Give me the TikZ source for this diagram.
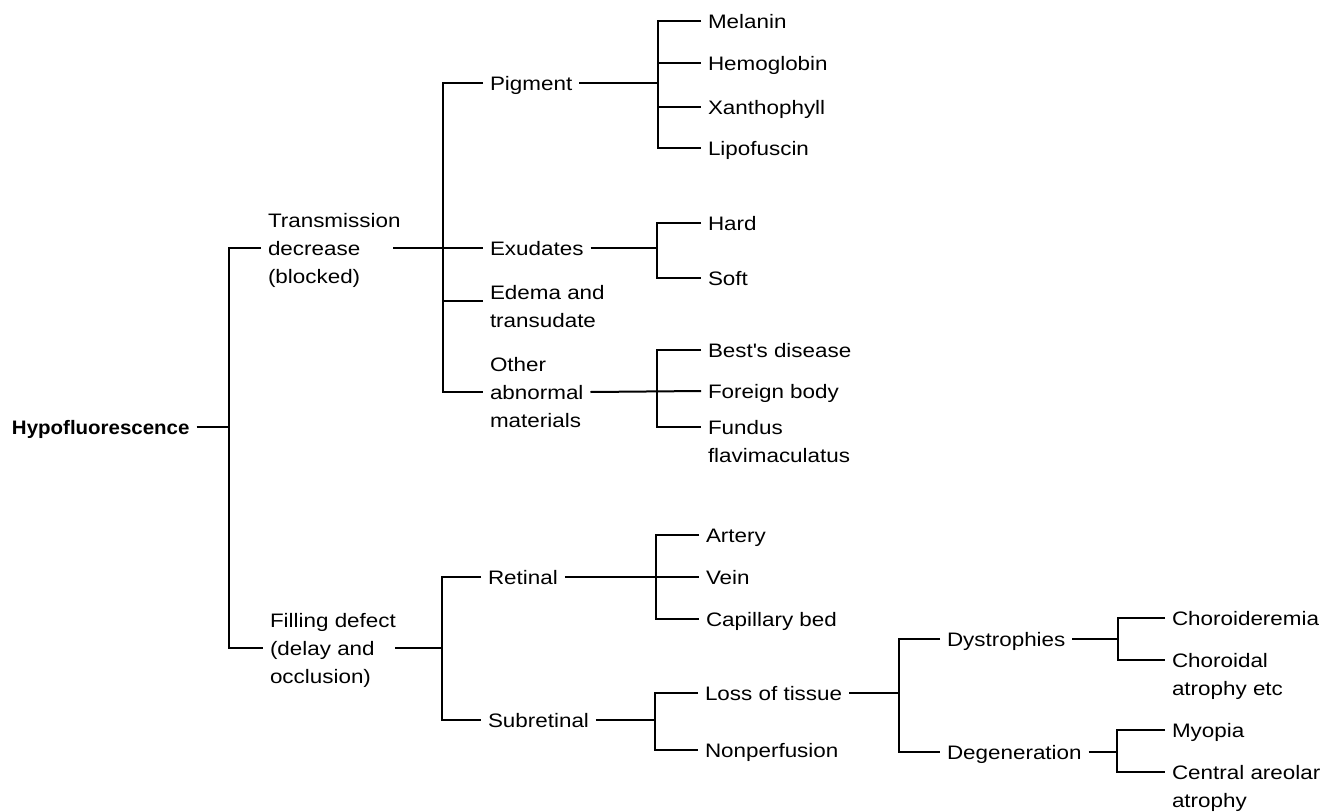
\documentclass[tikz,border=0pt]{standalone}
\usepackage{fontspec}
\setmainfont{Liberation Sans}[FakeStretch=1.15]
\newfontfamily\hypofont{Liberation Sans}[FakeStretch=1.05]
\begin{document}
\begin{tikzpicture}[x=1pt,y=-1pt,
  every node/.style={font=\fontsize{19.5}{28}\selectfont, text=black},
  lbl/.style={inner xsep=7pt, inner ysep=0pt, outer sep=0pt, text height=14pt, text depth=0pt, anchor=west},
  mlbl/.style={inner xsep=7pt, inner ysep=0pt, outer sep=0pt, align=left, anchor=base west},
  br/.style={line width=2pt, line join=miter}]
\useasboundingbox[fill=white] (0,0) rectangle (1335,811);

% junction columns
\coordinate (J0) at (229,0);
\coordinate (J1) at (443,0);
\coordinate (J2) at (442,0);
\coordinate (Jpig) at (658,0);
\coordinate (Jex) at (657,0);
\coordinate (Joth) at (657,0);
\coordinate (Jret) at (656,0);
\coordinate (Jsub) at (655,0);
\coordinate (Jloss) at (899,0);
\coordinate (Jdys) at (1118,0);
\coordinate (Jdeg) at (1117,0);

% nodes (multi-line labels are placed by the baseline of their last line)
\node[lbl] (hypo) at (5,427) {\hypofont\bfseries Hypofluorescence};
\node[mlbl] (trans) at (261,283) {Transmission\\decrease\\(blocked)};
\node[mlbl] (fill) at (263,683) {Filling defect\\(delay and\\occlusion)};

\node[lbl] (pig) at (483,83) {Pigment};
\node[lbl] (exud) at (483,248) {Exudates};
\node[mlbl] (edema) at (483,327) {Edema and\\transudate};
\node[mlbl] (other) at (483,427) {Other\\abnormal\\materials};

\node[lbl] (mel) at (701,21) {Melanin};
\node[lbl] (hemo) at (701,63) {Hemoglobin};
\node[lbl] (xan) at (701,107) {Xanthophyll};
\node[lbl] (lip) at (701,148) {Lipofuscin};

\node[lbl] (hard) at (701,223) {Hard};
\node[lbl] (soft) at (701,278) {Soft};

\node[lbl] (best) at (701,350) {Best\textquotesingle s disease};
\node[lbl] (foreign) at (701,391) {Foreign body};
\node[mlbl] (fundus) at (701,462) {Fundus\\flavimaculatus};

\node[lbl] (ret) at (481,577) {Retinal};
\node[lbl] (sub) at (481,720) {Subretinal};

\node[lbl] (art) at (699,535) {Artery};
\node[lbl] (vein) at (699,577) {Vein};
\node[lbl] (cap) at (699,619) {Capillary bed};

\node[lbl] (loss) at (698,693) {Loss of tissue};
\node[lbl] (nonp) at (698,750) {Nonperfusion};

\node[lbl] (dys) at (940,639) {Dystrophies};
\node[lbl] (deg) at (940,752) {Degeneration};

\node[lbl] (chorem) at (1165,618) {Choroideremia};
\node[mlbl] (choroidal) at (1165,695) {Choroidal\\atrophy etc};
\node[lbl] (myo) at (1165,730) {Myopia};
\node[mlbl] (central) at (1165,807) {Central areolar\\atrophy};

% attach points on multi-line labels
\coordinate (transL) at ([yshift=35pt]trans.base west);
\coordinate (transR) at ([xshift=132pt,yshift=35pt]trans.base west);
\coordinate (fillL) at ([yshift=35pt]fill.base west);
\coordinate (fillR) at ([xshift=132pt,yshift=35pt]fill.base west);
\coordinate (edL) at ([yshift=26pt]edema.base west);
\coordinate (othL) at ([yshift=35pt]other.base west);
\coordinate (othR) at ([yshift=35pt]other.base east);
\coordinate (funL) at ([yshift=35pt]fundus.base west);
\coordinate (chlL) at ([yshift=35pt]choroidal.base west);
\coordinate (cenL) at ([yshift=35pt]central.base west);

% connectors
\draw[br] (hypo.east) -- (J0 |- hypo.east);
\draw[br] (transL) -| (J0 |- fillL) -- (fillL);

\draw[br] (transR) -- (exud.west);
\draw[br] (pig.west) -| (J1 |- othL) -- (othL);
\draw[br] (J1 |- edL) -- (edL);

\draw[br] (pig.east) -- (Jpig |- pig.east);
\draw[br] (mel.west) -| (Jpig |- lip.west) -- (lip.west);
\draw[br] (Jpig |- hemo.west) -- (hemo.west);
\draw[br] (Jpig |- xan.west) -- (xan.west);

\draw[br] (exud.east) -- (Jex |- exud.east);
\draw[br] (hard.west) -| (Jex |- soft.west) -- (soft.west);

\draw[br] (othR) -- (foreign.west);
\draw[br] (best.west) -| (Joth |- funL) -- (funL);

\draw[br] (fillR) -- (J2 |- fillR);
\draw[br] (ret.west) -| (J2 |- sub.west) -- (sub.west);

\draw[br] (ret.east) -- (vein.west);
\draw[br] (art.west) -| (Jret |- cap.west) -- (cap.west);

\draw[br] (sub.east) -- (Jsub |- sub.east);
\draw[br] (loss.west) -| (Jsub |- nonp.west) -- (nonp.west);

\draw[br] (loss.east) -- (Jloss |- loss.east);
\draw[br] (dys.west) -| (Jloss |- deg.west) -- (deg.west);

\draw[br] (dys.east) -- (Jdys |- dys.east);
\draw[br] (chorem.west) -| (Jdys |- chlL) -- (chlL);

\draw[br] (deg.east) -- (Jdeg |- deg.east);
\draw[br] (myo.west) -| (Jdeg |- cenL) -- (cenL);
\end{tikzpicture}
\end{document}
